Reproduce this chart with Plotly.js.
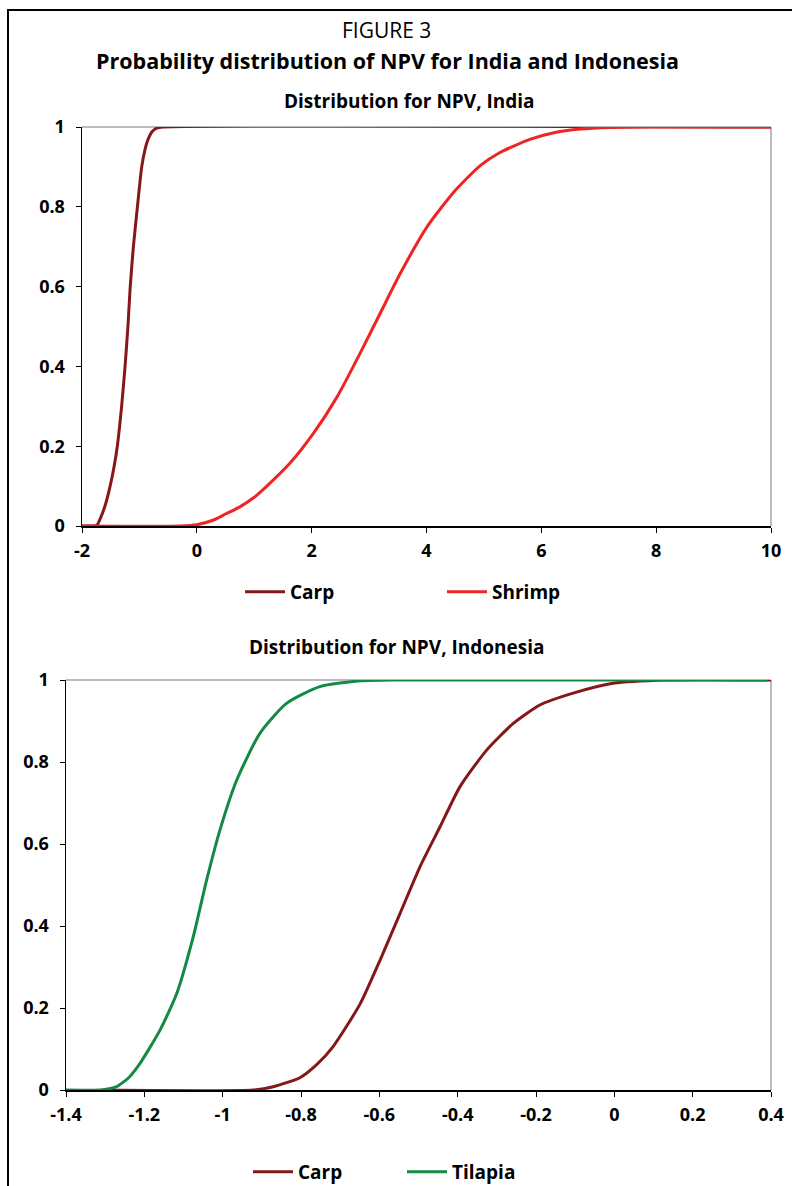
<!DOCTYPE html>
<html>
<head>
<meta charset="utf-8">
<script src="https://cdn.plot.ly/plotly-3.0.1.min.js"></script>
<style>
  html, body { margin: 0; padding: 0; background: #ffffff; }
  #chart { width: 792px; height: 1186px; }
</style>
</head>
<body>
<div id="chart"></div>
<script>
// ---------- Data ----------
// India
const indiaCarpX = [-2, -1.8, -1.74, -1.686, -1.6, -1.51, -1.44, -1.385, -1.31, -1.25, -1.2, -1.16, -1.105, -1.035, -0.96, -0.9, -0.86, -0.78, -0.7, -0.6, 10];
const indiaCarpY = [0, 0, 0.002, 0.017, 0.05, 0.1, 0.15, 0.2, 0.3, 0.4, 0.5, 0.6, 0.7, 0.8, 0.9, 0.945, 0.965, 0.988, 0.997, 1, 1];
const indiaShrimpX = [-2, -0.3, 0, 0.29, 0.5, 0.75, 1.0, 1.22, 1.62, 2.03, 2.44, 2.84, 3.19, 3.54, 4.0, 4.47, 4.93, 5.28, 5.8, 6.2, 6.68, 7.2, 7.9, 10];
const indiaShrimpY = [0, 0, 0.003, 0.015, 0.03, 0.048, 0.072, 0.1, 0.157, 0.232, 0.323, 0.432, 0.532, 0.632, 0.748, 0.836, 0.9025, 0.936, 0.969, 0.985, 0.995, 0.999, 1, 1];
// Indonesia
const indoCarpX = [-1.3, -0.922, -0.871, -0.803, -0.76, -0.718, -0.649, -0.598, -0.547, -0.496, -0.445, -0.394, -0.326, -0.258, -0.19, -0.105, -0.003, 0.134, 0.4];
const indoCarpY = [0, 0, 0.008, 0.03, 0.062, 0.106, 0.21, 0.317, 0.431, 0.545, 0.642, 0.74, 0.829, 0.894, 0.939, 0.968, 0.992, 1, 1];
const indoTilapiaX = [-1.4, -1.313, -1.29, -1.271, -1.24, -1.211, -1.16, -1.117, -1.075, -1.041, -1.007, -0.964, -0.905, -0.837, -0.752, -0.649, -0.55, 0.39];
const indoTilapiaY = [0, 0, 0.003, 0.008, 0.03, 0.065, 0.146, 0.236, 0.374, 0.512, 0.634, 0.756, 0.87, 0.943, 0.984, 0.998, 1, 1];

// Tick labels
const indiaXTickVals = [-2, 0, 2, 4, 6, 8, 10];
const indiaXTickText = ["-2", "0", "2", "4", "6", "8", "10"];
const indoXTickVals = [-1.4, -1.2, -1, -0.8, -0.6, -0.4, -0.2, 0, 0.2, 0.4];
const indoXTickText = ["-1.4", "-1.2", "-1", "-0.8", "-0.6", "-0.4", "-0.2", "0", "0.2", "0.4"];
const yTickVals = [0, 0.2, 0.4, 0.6, 0.8, 1];
const yTickText = ["0", "0.2", "0.4", "0.6", "0.8", "1"];

// Texts
const figLabel = "FIGURE 3";
const mainTitle = "Probability distribution of NPV for India and Indonesia";
const indiaTitle = "Distribution for NPV, India";
const indoTitle = "Distribution for NPV, Indonesia";

// ---------- Styling ----------
const FONT = "Open Sans, Noto Sans, sans-serif";
const cCarp = "#861719";
const cShrimp = "#EE2524";
const cTilapia = "#138A43";
const W = 792, H = 1186;
const px = v => v / W;
const py = v => (H - v) / H;

const traces = [
  { x: indiaCarpX, y: indiaCarpY, name: "Carp", mode: "lines", xaxis: "x", yaxis: "y",
    line: { color: cCarp, width: 3, shape: "spline", smoothing: 0.6 }, legend: "legend" },
  { x: indiaShrimpX, y: indiaShrimpY, name: "Shrimp", mode: "lines", xaxis: "x", yaxis: "y",
    line: { color: cShrimp, width: 3, shape: "spline", smoothing: 0.6 }, legend: "legend" },
  { x: indoCarpX, y: indoCarpY, name: "Carp", mode: "lines", xaxis: "x2", yaxis: "y2",
    line: { color: cCarp, width: 3, shape: "spline", smoothing: 0.6 }, legend: "legend2" },
  { x: indoTilapiaX, y: indoTilapiaY, name: "Tilapia", mode: "lines", xaxis: "x2", yaxis: "y2",
    line: { color: cTilapia, width: 3, shape: "spline", smoothing: 0.6 }, legend: "legend2" }
];

const tickFont = { family: FONT, size: 18, color: "#000", weight: "bold" };
const xCommon = {
  showgrid: false, zeroline: false, showline: true, linecolor: "#000", linewidth: 1.5,
  ticks: "outside", ticklen: 5, tickwidth: 1, tickcolor: "#000",
  tickfont: tickFont, tickmode: "array", ticklabelstandoff: 3, fixedrange: true, automargin: false
};
const yCommon = {
  showgrid: false, zeroline: false, showline: true, linecolor: "#000", linewidth: 1.5,
  ticks: "outside", ticklen: 5, tickwidth: 1, tickcolor: "#000",
  tickfont: tickFont, tickmode: "array", tickvals: yTickVals, ticktext: yTickText,
  range: [0, 1], ticklabelstandoff: 7, fixedrange: true, automargin: false
};
const legendFont = { family: FONT, size: 19, color: "#000", weight: "bold" };

const layout = {
  width: W, height: H,
  margin: { l: 0, r: 0, t: 0, b: 0, autoexpand: false },
  paper_bgcolor: "#fff", plot_bgcolor: "#fff",
  font: { family: FONT, color: "#000" },
  xaxis: Object.assign({}, xCommon, { domain: [px(82), px(771)], range: [-2, 10],
    tickvals: indiaXTickVals, ticktext: indiaXTickText, anchor: "y" }),
  yaxis: Object.assign({}, yCommon, { domain: [py(526), py(127)], anchor: "x" }),
  xaxis2: Object.assign({}, xCommon, { domain: [px(66), px(771)], range: [-1.4, 0.4],
    tickvals: indoXTickVals, ticktext: indoXTickText, anchor: "y2" }),
  yaxis2: Object.assign({}, yCommon, { domain: [py(1090), py(680)], anchor: "x2" }),
  showlegend: true,
  legend: { orientation: "h", x: px(240), y: py(592), xanchor: "left", yanchor: "middle",
    font: legendFont, bgcolor: "rgba(0,0,0,0)",
    entrywidth: 147, entrywidthmode: "pixels", itemwidth: 40 },
  legend2: { orientation: "h", x: px(248), y: py(1172), xanchor: "left", yanchor: "middle",
    font: legendFont, bgcolor: "rgba(0,0,0,0)",
    entrywidth: 99, entrywidthmode: "pixels", itemwidth: 40 },
  annotations: [
    { text: figLabel, x: px(386), y: py(30), xref: "paper", yref: "paper", showarrow: false,
      xanchor: "center", yanchor: "middle", font: { family: FONT, size: 21, color: "#000" } },
    { text: "<b>" + mainTitle + "</b>", x: px(387), y: py(60), xref: "paper", yref: "paper", showarrow: false,
      xanchor: "center", yanchor: "middle", font: { family: FONT, size: 21.5, color: "#000" } },
    { text: "<b>" + indiaTitle + "</b>", x: px(409), y: py(101), xref: "paper", yref: "paper", showarrow: false,
      xanchor: "center", yanchor: "middle", font: { family: FONT, size: 19, color: "#000" } },
    { text: "<b>" + indoTitle + "</b>", x: px(396), y: py(647), xref: "paper", yref: "paper", showarrow: false,
      xanchor: "center", yanchor: "middle", font: { family: FONT, size: 19, color: "#000" } }
  ],
  shapes: [
    // outer figure frame
    { type: "rect", xref: "paper", yref: "paper", x0: px(8), x1: 1.05, y0: -0.05, y1: py(10),
      line: { color: "#000", width: 2 }, fillcolor: "rgba(0,0,0,0)", layer: "below" },
    // grey top / right borders of the plot areas
    { type: "line", xref: "x domain", yref: "y domain", x0: 0, x1: 1, y0: 1, y1: 1,
      line: { color: "#a6a6a6", width: 1.5 }, layer: "below" },
    { type: "line", xref: "x domain", yref: "y domain", x0: 1, x1: 1, y0: 0, y1: 1,
      line: { color: "#a6a6a6", width: 1.5 }, layer: "below" },
    { type: "line", xref: "x2 domain", yref: "y2 domain", x0: 0, x1: 1, y0: 1, y1: 1,
      line: { color: "#a6a6a6", width: 1.5 }, layer: "below" },
    { type: "line", xref: "x2 domain", yref: "y2 domain", x0: 1, x1: 1, y0: 0, y1: 1,
      line: { color: "#a6a6a6", width: 1.5 }, layer: "below" }
  ]
};

Plotly.newPlot("chart", traces, layout, { staticPlot: true, displayModeBar: false });
</script>
</body>
</html>
